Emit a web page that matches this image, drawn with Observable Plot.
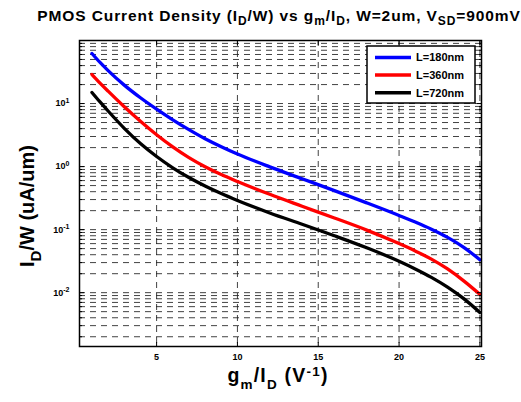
<!DOCTYPE html>
<html><head><meta charset="utf-8">
<script src="https://cdn.jsdelivr.net/npm/d3@7"></script>
<script src="https://cdn.jsdelivr.net/npm/@observablehq/plot@0.6"></script>
<style>
body{margin:0;background:#fff;}
svg{font-family:Arial,"Liberation Sans",sans-serif;}
</style>
</head><body><div id="chart"></div>
<script>
// ---- data ----
const gmId   = [1, 1.5, 2, 3, 4, 5, 6, 7, 8, 9, 10, 12, 14, 16, 18, 20, 21, 22, 23, 24, 25];
const idw180 = [62.2, 44.8, 33.3, 19.6, 12.35, 8.15, 5.52, 3.85, 2.76, 2.06, 1.58, 0.99, 0.641, 0.415, 0.266, 0.168, 0.132, 0.1015, 0.0754, 0.0525, 0.0333];
const idw360 = [28.9, 21.1, 15.7, 8.9, 5.24, 3.2, 2.05, 1.385, 0.994, 0.747, 0.58, 0.363, 0.235, 0.153, 0.0983, 0.060, 0.0458, 0.0341, 0.0238, 0.0154, 0.0094];
const idw720 = [15.0, 10.6, 7.62, 4.05, 2.32, 1.445, 0.958, 0.671, 0.492, 0.373, 0.29, 0.184, 0.1215, 0.080, 0.0515, 0.0315, 0.0238, 0.0175, 0.01225, 0.00805, 0.00486];
const seriesNames = ["L=180nm", "L=360nm", "L=720nm"];
const seriesColors = ["#0000ff", "#ff0000", "#000000"];
const xTicks = [5, 10, 15, 20, 25];
const yMajor = [0.01, 0.1, 1, 10, 100];
const yLabeled = [0.01, 0.1, 1, 10];
const yDecadeStarts = [0.001, 0.01, 0.1, 1, 10];
const xDomain = [0.23, 25.1];
const yDomain = [0.0014, 100];

const yMinor = [];
for (const d of yDecadeStarts) for (let k = 2; k <= 9; k++) {
  const v = +(k * d).toPrecision(3);
  if (v >= yDomain[0] && v <= yDomain[1]) yMinor.push(v);
}
const yGrid = [...yMinor, ...yMajor].filter(v => v >= yDomain[0] && v <= yDomain[1]);

const seriesValues = [idw180, idw360, idw720];
const rows = [];
seriesNames.forEach((name, i) => gmId.forEach((x, j) => rows.push({series: name, x, v: seriesValues[i][j]})));

const gridStyle = {stroke: "#222", strokeWidth: 1, strokeDasharray: "6,5", strokeOpacity: 0.85};

const chart = Plot.plot({
  width: 521, height: 402,
  marginLeft: 79, marginRight: 40, marginTop: 40, marginBottom: 56,
  style: {fontFamily: "Arial, 'Liberation Sans', sans-serif", background: "#fff", color: "#000", overflow: "visible"},
  x: {domain: xDomain},
  y: {type: "log", domain: yDomain},
  color: {domain: seriesNames, range: seriesColors},
  marks: [
    Plot.ruleY(yGrid, gridStyle),
    Plot.ruleX(xTicks, gridStyle),
    Plot.line(rows, {x: "x", y: "v", z: "series", stroke: "series", strokeWidth: 3.3, curve: "monotone-x"}),
    Plot.axisX({anchor: "bottom", ticks: xTicks, tickSize: -4, tickPadding: 11, fontSize: 9, fontWeight: "bold", label: null, tickFormat: d => String(d)}),
    Plot.axisX({anchor: "top", ticks: xTicks, tickSize: -4, tickFormat: () => "", label: null}),
    Plot.axisY({anchor: "left", ticks: yLabeled, tickSize: 0, tickPadding: 10, fontSize: 9, fontWeight: "bold", label: null, tickFormat: d => "10^" + Math.round(Math.log10(d))}),
    Plot.axisY({anchor: "left", ticks: yMajor, tickSize: -5, tickFormat: () => "", label: null}),
    Plot.axisY({anchor: "right", ticks: yMajor, tickSize: -5, tickFormat: () => "", label: null}),
    Plot.axisY({anchor: "left", ticks: yMinor, tickSize: -3, tickFormat: () => "", label: null}),
    Plot.axisY({anchor: "right", ticks: yMinor, tickSize: -3, tickFormat: () => "", label: null}),
    Plot.frame({stroke: "#000", strokeWidth: 1.5})
  ]
});

const svg = d3.select(chart);

// superscript exponents on y tick labels
svg.selectAll("text").each(function () {
  const s = this.textContent;
  const m = /^10\^(-?\d+)$/.exec(s);
  if (!m) return;
  const t = d3.select(this);
  t.text(null);
  t.append("tspan").text("10");
  t.append("tspan").attr("dy", "-0.55em").attr("font-size", 7).text(m[1]);
});

// rich text helper: parts of [text, kind] where kind "", "sub", "sup"
function rich(sel, parts, size, small, subShift, supShift) {
  let cur = 0;
  for (const [txt, kind] of parts) {
    const target = kind === "sub" ? subShift : kind === "sup" ? -supShift : 0;
    sel.append("tspan")
      .attr("dy", target - cur)
      .attr("font-size", kind ? small : size)
      .text(txt);
    cur = target;
  }
}

// title
const title = svg.append("text")
  .attr("x", 279).attr("y", 21)
  .attr("text-anchor", "middle").attr("font-weight", "bold")
  .attr("letter-spacing", 0.9);
rich(title, [["PMOS Current Density (I", ""], ["D", "sub"], ["/W) vs g", ""], ["m", "sub"], ["/I", ""], ["D", "sub"], [", W=2um, V", ""], ["SD", "sub"], ["=900mV", ""]], 15.5, 12, 4, 0);

// x label
const xl = svg.append("text")
  .attr("x", 278).attr("y", 382)
  .attr("text-anchor", "middle").attr("font-weight", "bold")
  .attr("letter-spacing", 1.2);
rich(xl, [["g", ""], ["m", "sub"], ["/I", ""], ["D", "sub"], [" (V", ""], ["-1", "sup"], [")", ""]], 19.5, 13.5, 7, 6);

// y label
const yl = svg.append("text")
  .attr("transform", "translate(34,206) rotate(-90)")
  .attr("text-anchor", "middle").attr("font-weight", "bold");
rich(yl, [["I", ""], ["D", "sub"], ["/W (uA/um)", ""]], 20, 15, 7, 0);

// legend
const lg = svg.append("g").attr("text-anchor", "start");
lg.append("rect").attr("x", 367).attr("y", 46).attr("width", 108).attr("height", 57)
  .attr("fill", "#fff").attr("stroke", "#000").attr("stroke-width", 1.5);
seriesNames.forEach((name, i) => {
  const yy = 57.5 + i * 17.6;
  lg.append("line").attr("x1", 375).attr("x2", 411).attr("y1", yy).attr("y2", yy)
    .attr("stroke", seriesColors[i]).attr("stroke-width", 3.5);
  lg.append("text").attr("x", 416).attr("y", yy).attr("dy", "0.36em")
    .attr("text-anchor", "start")
    .attr("font-size", 11).attr("font-weight", "bold").text(name);
});

document.getElementById("chart").appendChild(chart);
</script>
</body></html>
